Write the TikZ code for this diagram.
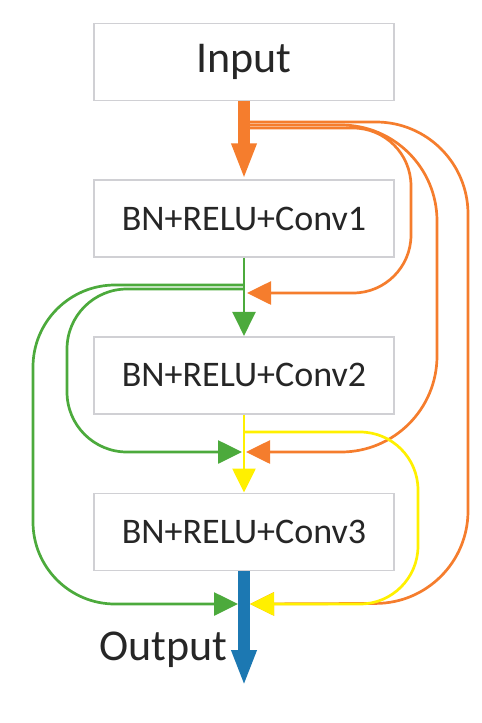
\documentclass[tikz,border=0pt]{standalone}
\usepackage{fontspec}
\setmainfont{Carlito}
\usetikzlibrary{arrows.meta,positioning}
\definecolor{resorange}{RGB}{245,125,45}
\definecolor{resgreen}{RGB}{76,170,60}
\definecolor{resyellow}{RGB}{255,240,0}
\definecolor{resblue}{RGB}{28,120,178}
\definecolor{boxgray}{RGB}{208,208,212}
\begin{document}
\begin{tikzpicture}[x=0.5pt,y=-0.5pt,
 blk/.style={draw=boxgray,line width=0.8pt,fill=white,minimum width=150pt,minimum height=38.5pt,font=\fontsize{18}{21}\selectfont,text=black!85},
 lbl/.style={font=\fontsize{22}{26}\selectfont,text=black!85},
 skip/.style={line width=1.35pt,-{Triangle[length=12pt,width=11.5pt]}},
 fat/.style={line width=6pt,-{Triangle[length=18pt,width=11.5pt]}}
]
\useasboundingbox (0,0) rectangle (482,723);
\node[blk,lbl] (in) at (244,62) {Input};
\node[blk,below=39pt of in] (c1) {BN+RELU+Conv1};
\node[blk,below=39pt of c1] (c2) {BN+RELU+Conv2};
\node[blk,below=39pt of c2] (c3) {BN+RELU+Conv3};
\node[lbl,inner sep=0pt,anchor=base east] (outtxt) at (228,660) {Output};
% branch points and joins on the spine
\coordinate (ob1) at (244,122);
\coordinate (ob2) at (244,125);
\coordinate (ob3) at (244,128);
\coordinate (gb1) at (244,285);
\coordinate (gb2) at (244,289);
\coordinate (yb) at (244,432);
\coordinate (j1o) at (247,293);
\coordinate (j2g) at (242,452);
\coordinate (j2o) at (246,452);
\coordinate (j3g) at (238,604);
\coordinate (j3y) at (250,604);
\coordinate (out) at (244,686);
% skip connections
\draw[skip,resorange,rounded corners=46pt] (ob1) -- (468,122) -- (468,603) -- (j3y);
\draw[skip,resorange,rounded corners=48pt] (ob2) -- (437,125) -- (437,452) -- (j2o);
\draw[skip,resorange,rounded corners=29pt] (ob3) -- (411,128) -- (411,293) -- (j1o);
\draw[skip,resgreen,rounded corners=41pt] (gb1) -- (33,285) -- (33,604) -- (j3g);
\draw[skip,resgreen,rounded corners=30pt] (gb2) -- (67,289) -- (67,452) -- (j2g);
\draw[skip,resyellow,rounded corners=29pt] (yb) -- (418,432) -- (418,604) -- (j3y);
% main path
\draw[fat,resorange] (in) -- (c1);
\draw[skip,resgreen] (c1) -- (c2);
\draw[skip,resyellow] (c2) -- (c3);
\draw[fat,resblue] (c3) -- (out);
\end{tikzpicture}
\end{document}
